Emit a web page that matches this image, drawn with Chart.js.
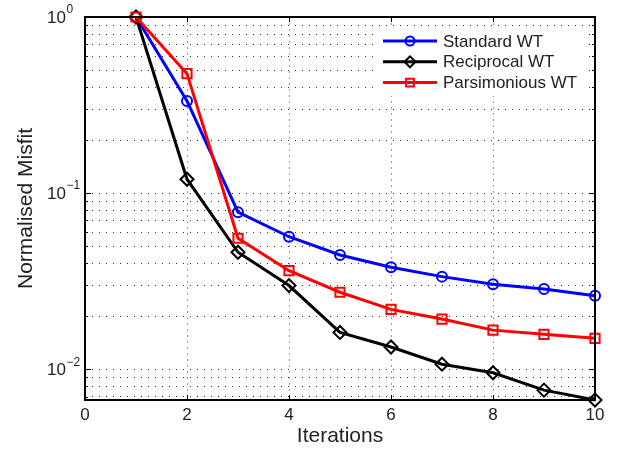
<!DOCTYPE html>
<html><head><meta charset="utf-8">
<script src="https://cdn.jsdelivr.net/npm/chart.js@4.4.1/dist/chart.umd.min.js"></script>
<style>html,body{margin:0;padding:0;background:#fff}#wrap{width:624px;height:449px}</style>
</head><body><div id="wrap"><canvas id="c" width="624" height="449"></canvas></div>
<script>
// ---- data ----
const iterations = [1, 2, 3, 4, 5, 6, 7, 8, 9, 10];
const standardWT = [1.0, 0.334, 0.078, 0.0566, 0.0446, 0.038, 0.0336, 0.0304, 0.0286, 0.0262];
const reciprocalWT = [1.0, 0.120, 0.0462, 0.0299, 0.0162, 0.0134, 0.0107, 0.00957, 0.00762, 0.0067];
const parsimoniousWT = [1.0, 0.477, 0.0555, 0.0363, 0.0274, 0.0219, 0.0193, 0.0167, 0.0158, 0.0150];
const seriesNames = ['Standard WT', 'Reciprocal WT', 'Parsimonious WT'];
const xTickValues = [0, 2, 4, 6, 8, 10];
const yDecadeExponents = [-2, -1, 0];
const yMin = 0.0067, yMax = 1;
const xTitle = 'Iterations';
const yTitle = 'Normalised Misfit';

const FONT = '"Liberation Sans", Arial, Helvetica, sans-serif';
const TEXT = '#222';

function pts(vals) { return iterations.map((x, i) => ({ x: x, y: vals[i] })); }

const styles = [
  { color: '#0000ff', pointStyle: 'circle', radius: 5, order: 3 },
  { color: '#000000', pointStyle: 'rectRot', radius: 6.5, order: 2 },
  { color: '#ff0000', pointStyle: 'rect', radius: 6.5, order: 1 }
];
const seriesData = [standardWT, reciprocalWT, parsimoniousWT];

const datasets = seriesData.map((vals, i) => ({
  label: seriesNames[i],
  data: pts(vals),
  borderColor: styles[i].color,
  backgroundColor: 'rgba(0,0,0,0)',
  pointBorderColor: styles[i].color,
  pointBackgroundColor: 'rgba(0,0,0,0)',
  pointStyle: styles[i].pointStyle,
  pointRadius: styles[i].radius,
  pointBorderWidth: 2,
  borderWidth: 3,
  tension: 0,
  clip: false,
  order: styles[i].order
}));

function isDecade(v) {
  const l = Math.log10(v);
  return Math.abs(l - Math.round(l)) < 1e-9;
}

const framePlugin = {
  id: 'frame',
  afterDatasetsDraw(chart) {
    const { ctx, chartArea: a, scales: { x, y } } = chart;
    ctx.save();
    ctx.strokeStyle = '#000';
    ctx.lineWidth = 1;
    function seg(x1, y1, x2, y2) { ctx.beginPath(); ctx.moveTo(x1, y1); ctx.lineTo(x2, y2); ctx.stroke(); }
    xTickValues.forEach(v => {
      const px = Math.round(x.getPixelForValue(v)) + 0.5;
      seg(px, a.bottom, px, a.bottom - 5);
      seg(px, a.top, px, a.top + 5);
    });
    y.ticks.forEach(t => {
      const py = Math.round(y.getPixelForValue(t.value)) + 0.5;
      const len = isDecade(t.value) ? 6 : 3;
      seg(a.left, py, a.left + len, py);
      seg(a.right, py, a.right - len, py);
    });
    ctx.lineWidth = 2;
    ctx.strokeRect(a.left, a.top, a.right - a.left, a.bottom - a.top);
    ctx.restore();
  },
  afterDraw(chart) {
    const { ctx, chartArea: a, scales: { y } } = chart;
    ctx.save();
    // y tick labels with superscript exponents
    ctx.fillStyle = TEXT;
    yDecadeExponents.forEach(e => {
      const py = y.getPixelForValue(Math.pow(10, e));
      const sup = (e < 0 ? '\u2212' : '') + Math.abs(e);
      const baseRight = a.left - 19;
      ctx.textBaseline = 'middle';
      ctx.font = '17px ' + FONT;
      ctx.textAlign = 'right';
      ctx.fillText('10', baseRight, py + 1);
      ctx.font = '12px ' + FONT;
      ctx.textAlign = 'left';
      ctx.fillText(sup, baseRight + 0.5, py - 7);
    });
    // y title
    ctx.font = '21px ' + FONT;
    ctx.textAlign = 'center'; ctx.textBaseline = 'middle';
    ctx.translate(26, (a.top + a.bottom) / 2);
    ctx.rotate(-Math.PI / 2);
    ctx.fillText(yTitle, 0, 0);
    ctx.restore();

    // legend
    ctx.save();
    const lx0 = a.right - 212, lineW = 54;
    const ly0 = a.top + 24, rowH = 20.8;
    ctx.fillStyle = '#fff';
    ctx.fillRect(lx0 - 4, a.top + 11, 208, 68);
    chart.data.datasets.forEach((ds, i) => {
      const yy = ly0 + i * rowH;
      ctx.strokeStyle = ds.borderColor;
      ctx.lineWidth = 3;
      ctx.beginPath(); ctx.moveTo(lx0, yy); ctx.lineTo(lx0 + lineW, yy); ctx.stroke();
      ctx.strokeStyle = ds.borderColor; ctx.lineWidth = 2;
      ctx.fillStyle = 'rgba(0,0,0,0)';
      Chart.helpers.drawPoint(ctx, {
        pointStyle: ds.pointStyle, rotation: 0, radius: ds.pointStyle === 'circle' ? 4.5 : 5.5,
        borderWidth: 2
      }, lx0 + lineW / 2, yy);
      ctx.fillStyle = TEXT;
      ctx.font = '17px ' + FONT;
      ctx.textAlign = 'left'; ctx.textBaseline = 'middle';
      ctx.fillText(ds.label, lx0 + lineW + 6, yy + 1);
    });
    ctx.restore();
  }
};

Chart.defaults.font.family = FONT;
Chart.defaults.color = TEXT;

new Chart(document.getElementById('c'), {
  type: 'line',
  data: { datasets: datasets },
  options: {
    responsive: false,
    animation: false,
    devicePixelRatio: 1,
    layout: { padding: { left: 85, right: 29, top: 17, bottom: 0 } },
    plugins: { legend: { display: false }, tooltip: { enabled: false } },
    scales: {
      x: {
        type: 'linear', min: 0, max: 10,
        afterBuildTicks: s => { s.ticks = xTickValues.map(v => ({ value: v })); },
        ticks: { font: { size: 17, lineHeight: 1 }, color: TEXT, padding: 7, maxRotation: 0 },
        grid: {
          drawTicks: false,
          color: c => (c.tick && (c.tick.value === 0 || c.tick.value === 10)) ? 'rgba(0,0,0,0)' : '#9a9a9a',
          lineWidth: 1
        },
        border: { display: false, dash: [2, 4] },
        title: { display: true, text: xTitle, font: { size: 21, lineHeight: '10px' }, color: TEXT, padding: { top: 0, bottom: 8 } }
      },
      y: {
        type: 'logarithmic', min: yMin, max: yMax,
        afterBuildTicks: s => {
          const t = [];
          for (let e = -3; e <= 0; e++) {
            for (let m = 1; m <= 9; m++) {
              const v = m * Math.pow(10, e);
              if (v >= yMin && v <= yMax + 1e-12) t.push({ value: v });
            }
          }
          s.ticks = t;
        },
        ticks: { display: false },
        grid: {
          drawTicks: false,
          color: c => (c.tick && c.tick.value >= 0.9999) ? 'rgba(0,0,0,0)' : '#333',
          lineWidth: 1
        },
        border: { display: false, dash: [1, 6] }
      }
    }
  },
  plugins: [framePlugin]
});
</script>
</body></html>
